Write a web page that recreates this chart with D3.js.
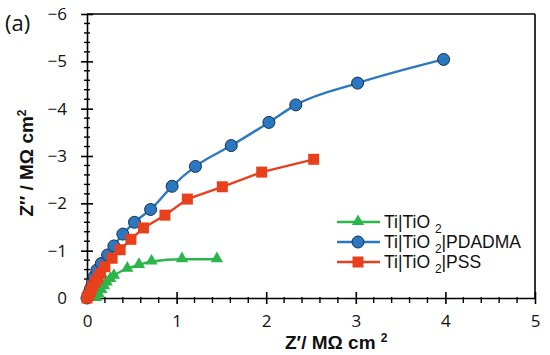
<!DOCTYPE html>
<html>
<head>
<meta charset="utf-8">
<script src="https://cdn.jsdelivr.net/npm/d3@7"></script>
<style>
  body { margin: 0; background: #fff; }
</style>
</head>
<body>
<div id="chart"></div>
<script>
// Nyquist data, Z' (MΩ cm²) and Z'' (MΩ cm², negative)
var seriesNames = ["Ti|TiO", "Ti|TiO", "Ti|TiO"];
var seriesSuffix = ["", "|PDADMA", "|PSS"];

var tio2X = [0.10, 0.13, 0.16, 0.19, 0.22, 0.26, 0.30, 0.45, 0.58, 0.72, 1.06, 1.45];
var tio2Y = [0.00, -0.08, -0.17, -0.25, -0.33, -0.40, -0.47, -0.62, -0.70, -0.77, -0.82, -0.82];

var pdadmaX = [0.00, 0.02, 0.04, 0.06, 0.08, 0.11, 0.16, 0.23, 0.30, 0.40, 0.53, 0.71, 0.95, 1.21, 1.61, 2.03, 2.33, 3.02, 3.98];
var pdadmaY = [0.00, -0.10, -0.20, -0.32, -0.45, -0.59, -0.73, -0.91, -1.10, -1.35, -1.60, -1.87, -2.36, -2.78, -3.22, -3.71, -4.08, -4.54, -5.04];

var pssX = [0.00, 0.02, 0.04, 0.06, 0.09, 0.12, 0.15, 0.20, 0.28, 0.37, 0.49, 0.63, 0.87, 1.12, 1.51, 1.95, 2.53];
var pssY = [0.00, -0.06, -0.14, -0.24, -0.33, -0.42, -0.52, -0.66, -0.84, -1.02, -1.24, -1.48, -1.75, -2.09, -2.35, -2.66, -2.93];

var xTicks = [0, 1, 2, 3, 4, 5];
var yTicks = [0, -1, -2, -3, -4, -5, -6];

var w = 550;
var h = 355;
var margin = {left: 87, right: 15, top: 14, bottom: 57};
var tickFont = "'Open Sans', 'DejaVu Sans', sans-serif";
var textFont = "'Liberation Sans', Arial, sans-serif";

var svg = d3.select("#chart")
            .append("svg")
            .attr("width", w)
            .attr("height", h)
            .attr("font-family", textFont);

var x = d3.scaleLinear().domain([0, 5]).range([margin.left, w - margin.right]);
var y = d3.scaleLinear().domain([0, -6]).range([h - margin.bottom, margin.top]);

var fmt = function(d) { return d3.format("")(d); };

// frame top and right
svg.append("line")
    .attr("x1", x(0)).attr("x2", x(5))
    .attr("y1", y(-6)).attr("y2", y(-6))
    .attr("stroke", "#000").attr("stroke-width", 1.6);
svg.append("line")
    .attr("x1", x(5)).attr("x2", x(5))
    .attr("y1", y(-6)).attr("y2", y(0))
    .attr("stroke", "#000").attr("stroke-width", 1.6);

// x axis
var xAxis = svg.append("g")
    .attr("transform", "translate(0," + y(0) + ")")
    .call(d3.axisBottom(x).tickValues(xTicks).tickFormat(fmt).tickSizeInner(6).tickSizeOuter(0).tickPadding(11));
xAxis.attr("font-family", tickFont).attr("font-size", 17);
xAxis.selectAll(".tick line").attr("y1", -6);
xAxis.selectAll(".tick text").attr("fill", "#111");
xAxis.select(".domain").attr("stroke-width", 1.6);
xAxis.selectAll(".tick line").attr("stroke-width", 1.6);

var xMinor = d3.range(0, 5.001, 0.2).filter(function(d) { return Math.abs(d - Math.round(d)) > 0.01; });
svg.selectAll(".xminor")
    .data(xMinor)
    .enter()
    .append("line")
    .attr("x1", function(d) { return x(d); })
    .attr("x2", function(d) { return x(d); })
    .attr("y1", y(0) - 1)
    .attr("y2", y(0) + 5)
    .attr("stroke", "#000")
    .attr("stroke-width", 1.4);

// y axis
var yAxis = svg.append("g")
    .attr("transform", "translate(" + x(0) + ",0)")
    .call(d3.axisLeft(y).tickValues(yTicks).tickFormat(fmt).tickSizeInner(6).tickSizeOuter(0).tickPadding(14));
yAxis.attr("font-family", tickFont).attr("font-size", 17);
yAxis.selectAll(".tick line").attr("x1", 6);
yAxis.selectAll(".tick text").attr("fill", "#111");
yAxis.select(".domain").attr("stroke-width", 1.6);
yAxis.selectAll(".tick line").attr("stroke-width", 1.6);

var yMinor = d3.range(0, -6.001, -0.2).filter(function(d) { return Math.abs(d - Math.round(d)) > 0.01; });
svg.selectAll(".yminor")
    .data(yMinor)
    .enter()
    .append("line")
    .attr("x1", x(0) - 3)
    .attr("x2", x(0) + 3)
    .attr("y1", function(d) { return y(d); })
    .attr("y2", function(d) { return y(d); })
    .attr("stroke", "#000")
    .attr("stroke-width", 1.4);

var series = [
    {xs: tio2X, ys: tio2Y, color: "#2ab64a", shape: "tri", curve: d3.curveMonotoneX},
    {xs: pdadmaX, ys: pdadmaY, color: "#2b78c2", shape: "circle", curve: d3.curveMonotoneX},
    {xs: pssX, ys: pssY, color: "#e8401c", shape: "square", curve: d3.curveLinear}
];

function drawMarker(g, shape, color, cx, cy) {
    if (shape == "circle") {
        g.append("circle").attr("cx", cx).attr("cy", cy).attr("r", 6)
            .attr("fill", color).attr("stroke", "#1a2f4a").attr("stroke-width", 1);
    } else if (shape == "square") {
        g.append("rect").attr("x", cx - 5.5).attr("y", cy - 5.5)
            .attr("width", 11).attr("height", 11).attr("fill", color);
    } else {
        g.append("path")
            .attr("d", d3.symbol().type(d3.symbolTriangle).size(65)())
            .attr("transform", "translate(" + cx + "," + (cy - 0.5) + ")")
            .attr("fill", color);
    }
}

var plot = svg.append("g");
series.forEach(function(s) {
    var pts = s.xs.map(function(d, i) { return [d, s.ys[i]]; });
    var line = d3.line()
        .x(function(d) { return x(d[0]); })
        .y(function(d) { return y(d[1]); })
        .curve(s.curve);
    plot.append("path")
        .datum(pts)
        .attr("d", line)
        .attr("fill", "none")
        .attr("stroke", s.color)
        .attr("stroke-width", 2.4);
});
series.forEach(function(s) {
    s.xs.forEach(function(d, i) {
        drawMarker(plot, s.shape, s.color, x(d), y(s.ys[i]));
    });
});

// legend
var legY = [222, 242, 262];
series.forEach(function(s, i) {
    var g = svg.append("g");
    g.append("line")
        .attr("x1", 337).attr("x2", 380)
        .attr("y1", legY[i]).attr("y2", legY[i])
        .attr("stroke", s.color).attr("stroke-width", 2.4);
    drawMarker(g, s.shape, s.color, 358, legY[i]);
    var t = g.append("text")
        .attr("x", 384)
        .attr("y", legY[i] + 6)
        .attr("font-size", "17.5px")
        .attr("fill", "#111");
    t.append("tspan").text(seriesNames[i] + " ");
    t.append("tspan").attr("font-size", "12px").attr("dy", 5).text("2");
    t.append("tspan").attr("dy", -5).text(seriesSuffix[i]);
});

// axis titles
var xt = svg.append("text")
    .attr("x", 285)
    .attr("y", 349)
    .attr("font-size", "19px")
    .attr("font-weight", "bold")
    .attr("fill", "#111");
xt.append("tspan").text("Z\u2032/ M\u03A9 cm ");
xt.append("tspan").attr("font-size", "12px").attr("dy", -7).text("2");

var yt = svg.append("text")
    .attr("transform", "translate(33,163) rotate(-90)")
    .attr("text-anchor", "middle")
    .attr("font-size", "19px")
    .attr("font-weight", "bold")
    .attr("fill", "#111");
yt.append("tspan").text("Z\u2032\u2032 / M\u03A9 cm");
yt.append("tspan").attr("font-size", "12px").attr("dy", -7).text("2");

svg.append("text")
    .attr("x", 5)
    .attr("y", 31)
    .attr("font-size", "22px")
    .attr("font-family", tickFont)
    .attr("fill", "#111")
    .text("(a)");
</script>
</body>
</html>
